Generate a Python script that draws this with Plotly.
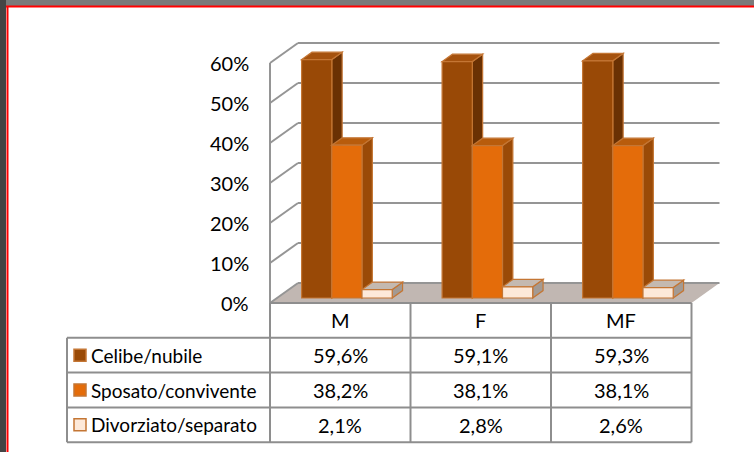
import plotly.graph_objects as go

# ---------------- data ----------------
categories = ["M", "F", "MF"]
series_names = ["Celibe/nubile", "Sposato/convivente", "Divorziato/separato"]
celibe_nubile = [59.6, 59.1, 59.3]
sposato_convivente = [38.2, 38.1, 38.1]
divorziato_separato = [2.1, 2.8, 2.6]
y_ticks = [0, 10, 20, 30, 40, 50, 60]
y_tick_labels = ["0%", "10%", "20%", "30%", "40%", "50%", "60%"]

series_values = [celibe_nubile, sposato_convivente, divorziato_separato]

# ---------------- styles ----------------
FONT = "Lato, Carlito, Calibri, sans-serif"
FS = 20
FS_LABEL = 19
# (front, side, top) colours per series
face_colors = [
    ("#994906", "#6A3103", "#A5520E"),
    ("#E46C0A", "#9A4A07", "#B85C0C"),
    ("#FDE9D9", "#A39A93", "#C4B9B0"),
]
key_colors = ["#994906", "#E46C0A", "#FDE9D9"]
EDGE = "#C47634"
GRID = "#959595"
TABLE_LINE = "#8E8E8E"
FLOOR = "#C1B7B2"

# 3D geometry in axis units
DX_FULL, DY_FULL = 0.1993, 5.0      # full depth of the box
F0, F1 = 0.25, 0.62                 # bar front/back depth fraction
BAR_W = 0.215
BAR_START = 0.175
ROW_H = 8.7
TABLE_LEFT = -1.445

fig = go.Figure()
fig.add_trace(go.Scatter(x=[0], y=[0], mode="markers", marker=dict(opacity=0), hoverinfo="skip", showlegend=False))

shapes = []
annotations = []


def poly(pts, fill, line_color=None, width=0):
    path = "M " + " L ".join(f"{x},{y}" for x, y in pts) + " Z"
    shapes.append(dict(type="path", path=path, xref="x", yref="y", fillcolor=fill,
                       line=dict(color=line_color or fill, width=width), layer="above"))


def seg(x0, y0, x1, y1, color, width):
    shapes.append(dict(type="line", x0=x0, y0=y0, x1=x1, y1=y1, xref="x", yref="y",
                       line=dict(color=color, width=width), layer="above"))


ncat = len(categories)
ymax = max(y_ticks)

# floor
poly([(0, 0), (ncat, 0), (ncat + DX_FULL, DY_FULL), (DX_FULL, DY_FULL)], FLOOR)

# gridlines + side wall edge
seg(0, 0, 0, ymax, GRID, 2)
for v in y_ticks:
    seg(0, v, DX_FULL, v + DY_FULL, GRID, 2)
    seg(DX_FULL, v + DY_FULL, ncat + DX_FULL, v + DY_FULL, GRID, 2)

# bars
fdx, fdy = DX_FULL * F0, DY_FULL * F0
bdx, bdy = DX_FULL * F1, DY_FULL * F1
for i in range(ncat):
    for k, vals in enumerate(series_values):
        v = vals[i]
        front_c, side_c, top_c = face_colors[k]
        x0 = i + BAR_START + k * BAR_W + fdx
        x1 = x0 + BAR_W
        y0 = fdy
        y1 = fdy + v
        ddx, ddy = bdx - fdx, bdy - fdy
        # side
        poly([(x1, y0), (x1 + ddx, y0 + ddy), (x1 + ddx, y1 + ddy), (x1, y1)], side_c, EDGE, 1.2)
        # top
        poly([(x0, y1), (x1, y1), (x1 + ddx, y1 + ddy), (x0 + ddx, y1 + ddy)], top_c, EDGE, 1.2)
        # front
        poly([(x0, y0), (x1, y0), (x1, y1), (x0, y1)], front_c, EDGE, 1.2)

# y tick labels
for v, t in zip(y_ticks, y_tick_labels):
    annotations.append(dict(x=-0.135, y=v, xref="x", yref="y", text=t, showarrow=False,
                            xanchor="right", yanchor="middle", font=dict(family=FONT, size=FS, color="#000")))

# table
nrows = len(series_names)
bottom = -(nrows + 1) * ROW_H
# vertical lines of value columns
for c in range(ncat + 1):
    seg(c, 0, c, bottom, TABLE_LINE, 2)
# header top
seg(0, 0, ncat, 0, TABLE_LINE, 2)
# row lines
for r in range(1, nrows + 2):
    seg(TABLE_LEFT, -r * ROW_H, ncat, -r * ROW_H, TABLE_LINE, 2)
seg(TABLE_LEFT, -ROW_H, TABLE_LEFT, bottom, TABLE_LINE, 2)

for i, cat in enumerate(categories):
    annotations.append(dict(x=i + 0.5, y=-0.5 * ROW_H, xref="x", yref="y", text=cat, showarrow=False,
                            xanchor="center", yanchor="middle", font=dict(family=FONT, size=FS, color="#000")))

KEY_W, KEY_H = 0.0854, 3.0
for r, name in enumerate(series_names):
    yc = -(r + 1.5) * ROW_H
    kx = TABLE_LEFT + 0.05
    poly([(kx, yc - KEY_H / 2), (kx + KEY_W, yc - KEY_H / 2), (kx + KEY_W, yc + KEY_H / 2), (kx, yc + KEY_H / 2)],
         key_colors[r], EDGE, 1.5)
    annotations.append(dict(x=kx + KEY_W + 0.02, y=yc, xref="x", yref="y", text=name, showarrow=False,
                            xanchor="left", yanchor="middle", font=dict(family=FONT, size=FS_LABEL, color="#000")))
    for i in range(ncat):
        txt = f"{series_values[r][i]:.1f}".replace(".", ",") + "%"
        annotations.append(dict(x=i + 0.5, y=yc, xref="x", yref="y", text=txt, showarrow=False,
                                xanchor="center", yanchor="middle", font=dict(family=FONT, size=FS, color="#000")))

# outer frame (slide background edges)
shapes.append(dict(type="rect", xref="paper", yref="paper", x0=0, x1=1, y0=1 - 6 / 452, y1=1,
                   fillcolor="#7A7A7A", line=dict(width=0), layer="above"))
shapes.append(dict(type="rect", xref="paper", yref="paper", x0=0, x1=6 / 754, y0=0, y1=1,
                   fillcolor="#444444", line=dict(width=0), layer="above"))
shapes.append(dict(type="line", xref="paper", yref="paper", x0=6 / 754, x1=1, y0=1 - 6.5 / 452, y1=1 - 6.5 / 452,
                   line=dict(color="#FF0000", width=2), layer="above"))
shapes.append(dict(type="line", xref="paper", yref="paper", x0=7.5 / 754, x1=7.5 / 754, y0=0, y1=1 - 6 / 452,
                   line=dict(color="#FF0000", width=2), layer="above"))

PX_X, PX_Y = 140.5, 4.0
fig.update_layout(
    width=754, height=452, margin=dict(l=0, r=0, t=0, b=0),
    paper_bgcolor="white", plot_bgcolor="white", showlegend=False,
    xaxis=dict(range=[-270 / PX_X, (754 - 270) / PX_X], visible=False, fixedrange=True),
    yaxis=dict(range=[(303 - 452) / PX_Y, 303 / PX_Y], visible=False, fixedrange=True),
    shapes=shapes, annotations=annotations,
)
fig.write_html("out.html")
